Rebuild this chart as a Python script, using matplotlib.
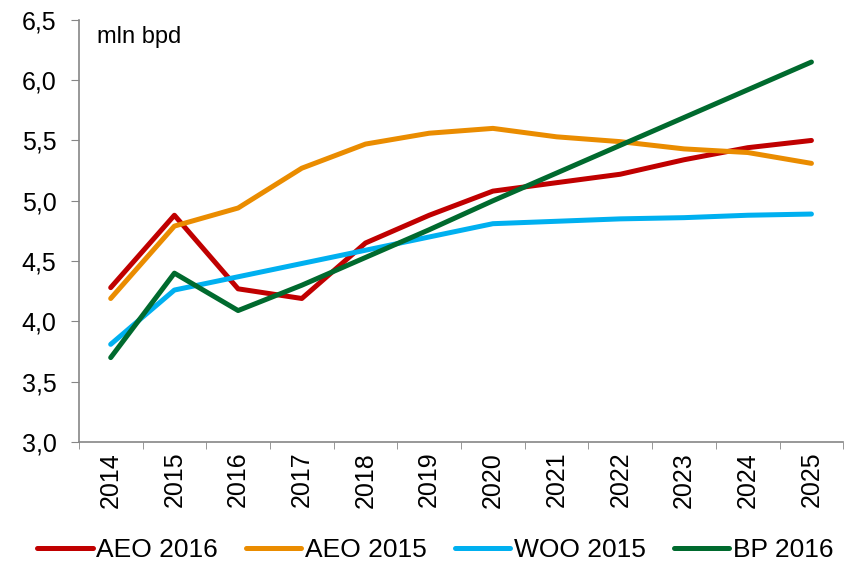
import numpy as np
import matplotlib.pyplot as plt

plt.rcParams['font.family'] = ['Liberation Sans', 'DejaVu Sans']

years = ['2014', '2015', '2016', '2017', '2018', '2019', '2020',
         '2021', '2022', '2023', '2024', '2025']
aeo_2016 = [4.28, 4.88, 4.27, 4.19, 4.65, 4.88, 5.08, 5.15, 5.22, 5.34, 5.44, 5.50]
aeo_2015 = [4.19, 4.79, 4.94, 5.27, 5.47, 5.56, 5.60, 5.53, 5.49, 5.43, 5.40, 5.31]
woo_2015 = [3.81, 4.26, 4.37, 4.48, 4.59, 4.70, 4.81, 4.83, 4.85, 4.86, 4.88, 4.89]
bp_2016 = [3.70, 4.40, 4.09, 4.30, 4.53, 4.76, 5.00, 5.23, 5.46, 5.69, 5.92, 6.15]
yticks = [3.0, 3.5, 4.0, 4.5, 5.0, 5.5, 6.0, 6.5]

fig = plt.figure(figsize=(8.57, 5.66), dpi=100)
ax = fig.add_axes([0.092, 0.219, 0.892, 0.746])

x = np.arange(len(years))
ax.plot(x, aeo_2016, color='#c00000', lw=3.6, label='AEO 2016', solid_capstyle='round')
ax.plot(x, aeo_2015, color='#ea8c00', lw=3.6, label='AEO 2015', solid_capstyle='round')
ax.plot(x, woo_2015, color='#00b0f0', lw=3.6, label='WOO 2015', solid_capstyle='round')
ax.plot(x, bp_2016, color='#006a2e', lw=3.6, label='BP 2016', solid_capstyle='round')

ax.set_xlim(-0.5, len(years) - 0.5)
ax.set_ylim(3.0, 6.5)
ax.set_xticks(x)
ax.set_xticklabels(years, rotation=90, fontsize=18)
ax.set_xticks(np.arange(len(years) + 1) - 0.5, minor=True)
ax.tick_params(axis='x', which='major', length=0, pad=7)
ax.tick_params(axis='x', which='minor', length=5, color='#868686', direction='out')
ax.set_yticks(yticks)
ax.set_yticklabels([f'{v:.1f}'.replace('.', ',') for v in yticks], fontsize=18)
ax.tick_params(axis='y', length=6, color='#868686', direction='out', pad=10)

for s in ['top', 'right']:
    ax.spines[s].set_visible(False)
for s in ['left', 'bottom']:
    ax.spines[s].set_color('#868686')
    ax.spines[s].set_linewidth(1.2)

ax.text(0.024, 0.985, 'mln bpd', transform=ax.transAxes, fontsize=17, va='top')

fig.legend(loc='center', bbox_to_anchor=(0.508, 0.028), ncol=4, frameon=False,
           fontsize=19, handlelength=2.1, handletextpad=0.15, columnspacing=1.05)

fig.savefig('out.png', dpi=100)
